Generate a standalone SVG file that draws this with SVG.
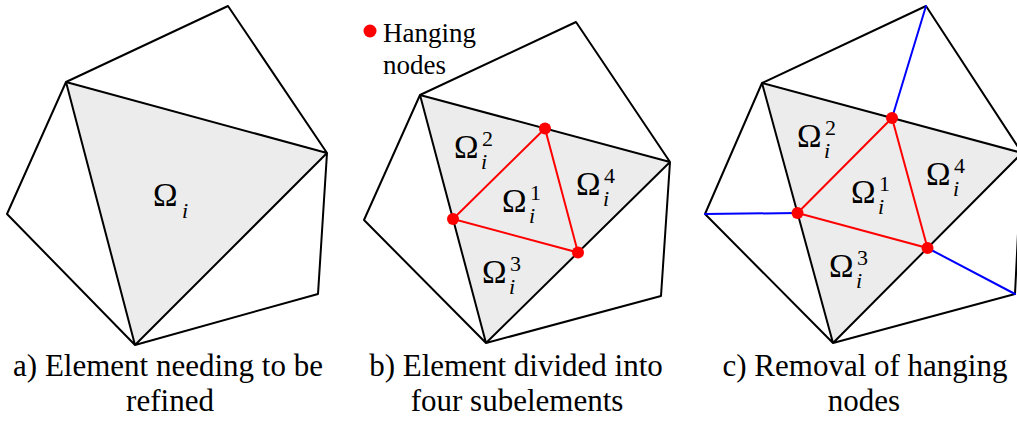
<svg xmlns="http://www.w3.org/2000/svg" width="1017" height="423" viewBox="0 0 1017 423">
<style>
.edge{fill:none;stroke:#000;stroke-width:2;stroke-linejoin:round;stroke-linecap:round}
.shade{fill:#ececec;stroke:none}
.red{fill:none;stroke:#ff0000;stroke-width:2;stroke-linecap:round}
.blue{fill:none;stroke:#0000ff;stroke-width:2;stroke-linecap:round}
.node{fill:#ff0000;stroke:none}
text{font-family:'Liberation Serif','Times New Roman',serif;fill:#000}
.om{font-size:33px}
.sup{font-size:22px}
.sub{font-size:22px;font-style:italic}
.cap{font-size:31px;text-anchor:middle}
.leg{font-size:27px}
</style>
<rect width="1017" height="423" fill="#fff"/>

<g id="panel-a">
  <polygon class="shade" points="66,82 327,153 135,345"/>
  <g id="edges-a">
    <polyline class="edge" points="66,82 228,6 327,153 318,294 135,345 7,214 66,82 327,153 135,345 66,82"/>
  </g>
  <text class="om" x="153" y="206">Ω</text>
  <text class="sub" x="182" y="218">i</text>
  <g id="caption-a">
    <text class="cap" x="168" y="376">a) Element needing to be</text>
    <text class="cap" x="170" y="411">refined</text>
  </g>
</g>

<g id="panel-b">
  <polygon class="shade" points="420,95 670,162 486,343"/>
  <g id="edges-b">
    <polyline class="edge" points="420,95 576,22 670,162 661,296 486,343 364,220 420,95 670,162 486,343 420,95"/>
    <polygon class="red" points="545,128.5 453,219 578,252.5"/>
  </g>
  <g id="hanging-nodes-b">
    <circle class="node" cx="545" cy="128.5" r="6"/>
    <circle class="node" cx="453" cy="219" r="6"/>
    <circle class="node" cx="578" cy="252.5" r="6"/>
  </g>
  <g id="labels-b">
    <text class="om" x="454" y="158">Ω</text><text class="sup" x="482" y="146">2</text><text class="sub" x="481" y="169">i</text>
    <text class="om" x="502" y="212">Ω</text><text class="sup" x="530" y="200">1</text><text class="sub" x="529" y="223">i</text>
    <text class="om" x="576" y="195">Ω</text><text class="sup" x="604" y="183">4</text><text class="sub" x="603" y="206">i</text>
    <text class="om" x="482" y="283">Ω</text><text class="sup" x="510" y="271">3</text><text class="sub" x="509" y="294">i</text>
  </g>
  <g id="legend">
    <circle class="node" cx="370" cy="31" r="6.5"/>
    <text class="leg" x="383" y="42">Hanging</text>
    <text class="leg" x="383" y="74">nodes</text>
  </g>
  <g id="caption-b">
    <text class="cap" x="516" y="376">b) Element divided into</text>
    <text class="cap" x="517" y="411">four subelements</text>
  </g>
</g>

<g id="panel-c">
  <polygon class="shade" points="762,83 1022,153 833,343"/>
  <g id="edges-c">
    <polyline class="edge" points="762,83 926,6 1022,153 1015,294 833,343 705,214 762,83 1022,153 833,343 762,83"/>
    <polygon class="red" points="892,118 797.5,213 927.5,248"/>
    <line class="blue" x1="926" y1="6" x2="892" y2="118"/>
    <line class="blue" x1="705" y1="214" x2="797.5" y2="213"/>
    <line class="blue" x1="1015" y1="294" x2="927.5" y2="248"/>
  </g>
  <g id="hanging-nodes-c">
    <circle class="node" cx="892" cy="118" r="6"/>
    <circle class="node" cx="797.5" cy="213" r="6"/>
    <circle class="node" cx="927.5" cy="248" r="6"/>
  </g>
  <g id="labels-c">
    <text class="om" x="797" y="147">Ω</text><text class="sup" x="825" y="135">2</text><text class="sub" x="824" y="158">i</text>
    <text class="om" x="851" y="203">Ω</text><text class="sup" x="879" y="191">1</text><text class="sub" x="878" y="214">i</text>
    <text class="om" x="926" y="185">Ω</text><text class="sup" x="954" y="173">4</text><text class="sub" x="953" y="196">i</text>
    <text class="om" x="829" y="277">Ω</text><text class="sup" x="857" y="265">3</text><text class="sub" x="856" y="288">i</text>
  </g>
  <g id="caption-c">
    <text class="cap" x="865" y="376">c) Removal of hanging</text>
    <text class="cap" x="864" y="411">nodes</text>
  </g>
</g>
</svg>
